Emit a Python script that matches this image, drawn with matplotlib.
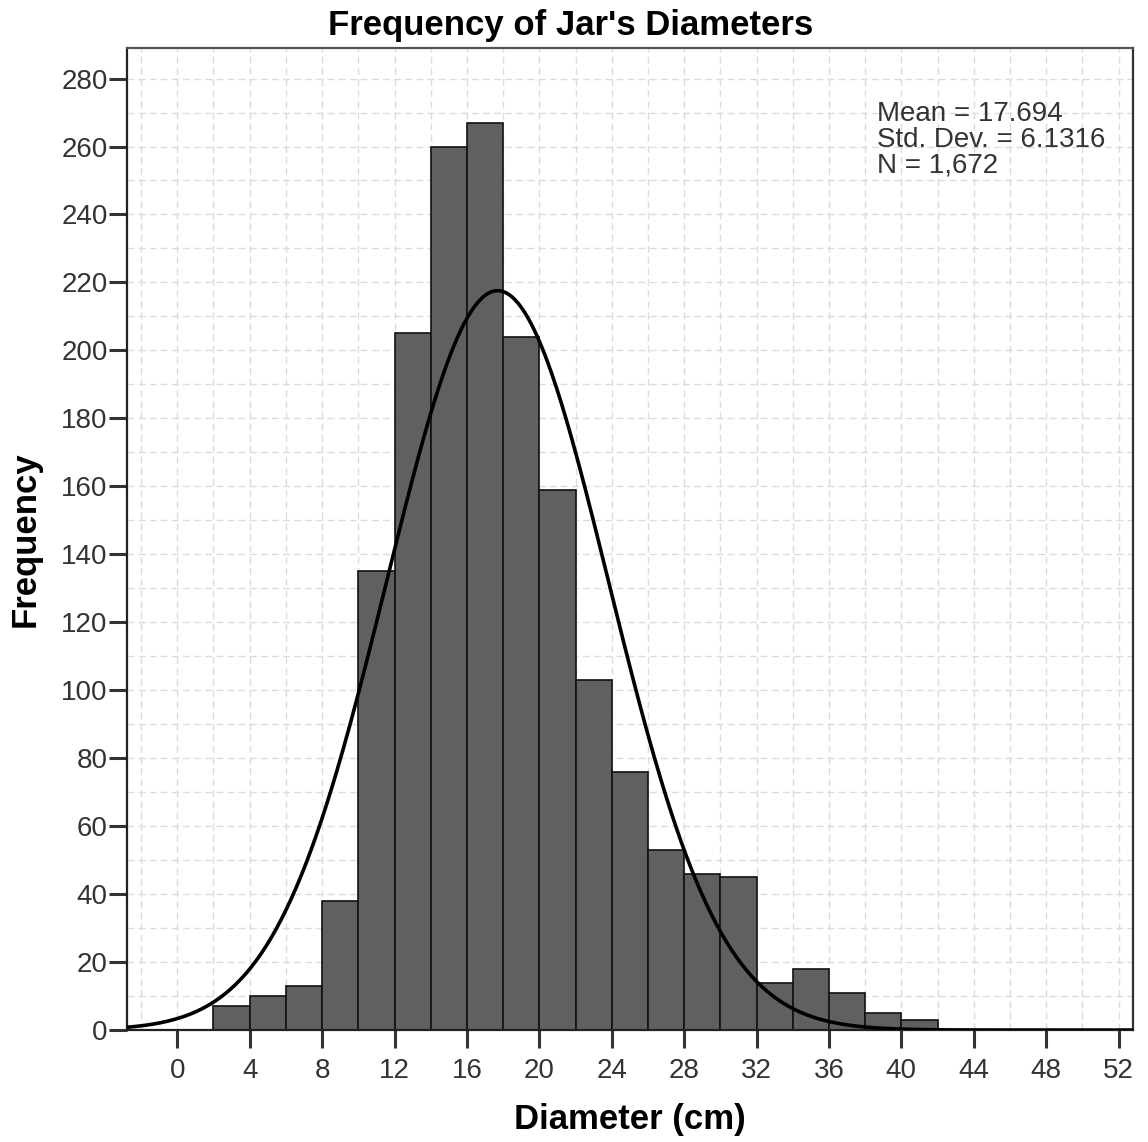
import numpy as np
import matplotlib
matplotlib.use("Agg")
import matplotlib.pyplot as plt
from matplotlib.ticker import MultipleLocator

plt.rcParams['font.family'] = ['Liberation Sans', 'DejaVu Sans']

# histogram bins (width 2 cm) and counts
bin_left = [2, 4, 6, 8, 10, 12, 14, 16, 18, 20, 22, 24, 26, 28, 30, 32, 34, 36, 38, 40]
counts = [7, 10, 13, 38, 135, 205, 260, 267, 204, 159, 103, 76, 53, 46, 45, 14, 18, 11, 5, 3]
bin_width = 2

mean = 17.694
std = 6.1316
n = 1672

x_ticks = [0, 4, 8, 12, 16, 20, 24, 28, 32, 36, 40, 44, 48, 52]
y_ticks = [0, 20, 40, 60, 80, 100, 120, 140, 160, 180, 200, 220, 240, 260, 280]

fig = plt.figure(figsize=(11.48, 11.42), dpi=100)
ax = fig.add_axes([0.1106, 0.098, 0.8764, 0.860])

ax.bar(bin_left, counts, width=bin_width, align='edge', color='#606060',
       edgecolor='#111111', linewidth=1.2, zorder=2)

# normal curve scaled to the histogram
xs = np.linspace(-2.8, 52.8, 600)
ys = n * bin_width / (std * np.sqrt(2 * np.pi)) * np.exp(-0.5 * ((xs - mean) / std) ** 2)
ax.plot(xs, ys, color='black', linewidth=2.6, zorder=3)

ax.set_xlim(-2.78, 52.8)
ax.set_ylim(0, 289)
ax.set_xticks(x_ticks)
ax.set_yticks(y_ticks)
ax.xaxis.set_minor_locator(MultipleLocator(2))
ax.yaxis.set_minor_locator(MultipleLocator(10))
ax.grid(which='both', color='#dcdcdc', linestyle=(0, (5, 3)), linewidth=1.0, zorder=0)
ax.set_axisbelow(True)

ax.tick_params(axis='both', which='major', direction='out', length=13, width=2.2,
               color='#333333', labelsize=20, labelcolor='#333333')
ax.tick_params(axis='y', which='major', pad=1)
ax.tick_params(axis='x', which='major', pad=7)
ax.tick_params(axis='both', which='minor', length=0)

for side in ['left', 'bottom', 'top', 'right']:
    ax.spines[side].set_color('#222222')
    ax.spines[side].set_linewidth(1.6)
ax.spines['top'].set_color('#555555')
ax.spines['right'].set_color('#333333')

# title is centred on the whole figure, not on the axes
fig.text(0.497, 0.978, "Frequency of Jar's Diameters", fontsize=25, fontweight='bold',
         ha='center', va='center')
ax.set_xlabel('Diameter (cm)', fontsize=25, fontweight='bold', labelpad=14)
ax.set_ylabel('Frequency', fontsize=25, fontweight='bold', labelpad=14)

ax.text(0.745, 0.946, 'Mean = 17.694\nStd. Dev. = 6.1316\nN = 1,672',
        transform=ax.transAxes, fontsize=20, color='#333333', va='top', ha='left',
        linespacing=1.0)

fig.savefig('out.png', dpi=100)
